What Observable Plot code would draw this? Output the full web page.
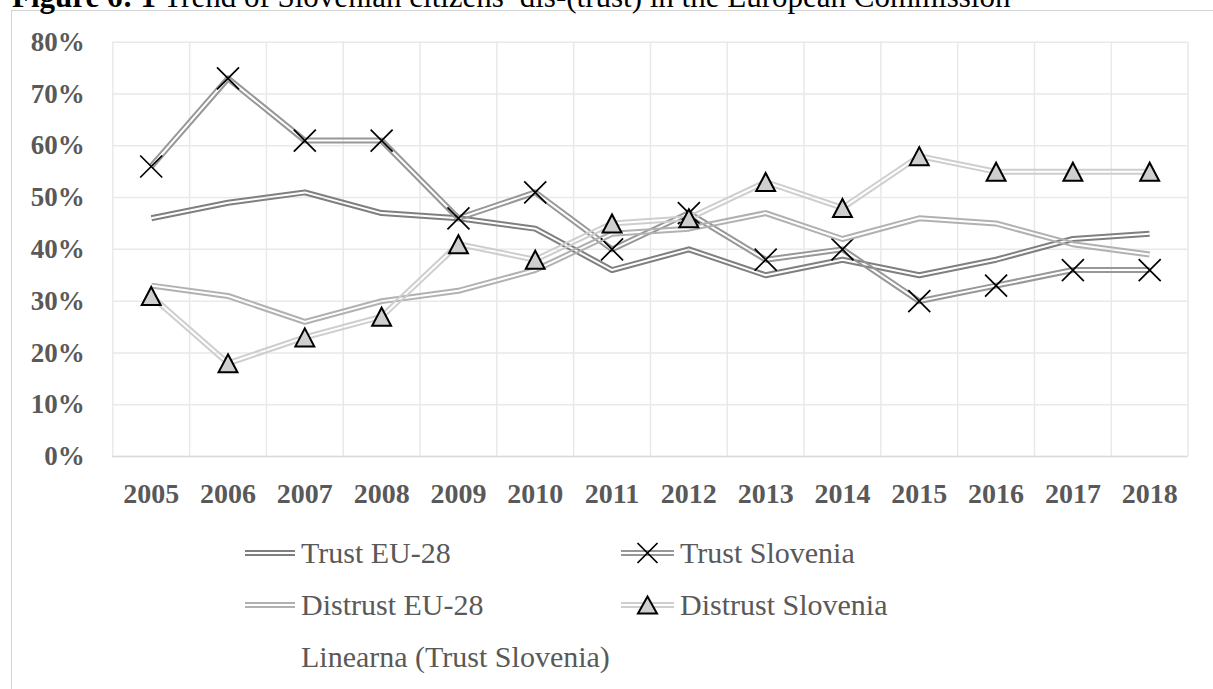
<!DOCTYPE html>
<html>
<head>
<meta charset="utf-8">
<script src="https://cdn.jsdelivr.net/npm/d3@7"></script>
<script src="https://cdn.jsdelivr.net/npm/@observablehq/plot@0.6"></script>
<style>
  html, body { margin: 0; padding: 0; background: #fff; width: 1213px; height: 689px; overflow: hidden; }
  #frame { position: absolute; left: 11px; top: 10px; width: 1400px; height: 900px; border: 1px solid #d4d4d4; }
  #title { position: absolute; left: 12px; top: -18px; font: 31px/30px "Liberation Serif", serif; color: #000; white-space: nowrap; }
  #chart { position: absolute; left: 0; top: 0; }
  #legend { position: absolute; left: 0; top: 0; }
  svg text { font-family: "Liberation Serif", "Times New Roman", serif !important; }
</style>
</head>
<body>
<div id="frame"></div>
<div id="title"><b>Figure 6: 1</b> Trend of Slovenian citizens’ dis-(trust) in the European Commission</div>
<div id="chart"></div>
<svg id="legend" width="1213" height="689"></svg>
<script>
// Survey years and shares (%) of respondents
const years = [2005, 2006, 2007, 2008, 2009, 2010, 2011, 2012, 2013, 2014, 2015, 2016, 2017, 2018];
const trustEU = [46, 49, 51, 47, 46, 44, 36, 40, 35, 38, 35, 38, 42, 43];
const trustSI = [56, 73, 61, 61, 46, 51, 40, 47, 38, 40, 30, 33, 36, 36];
const distrustEU = [33, 31, 26, 30, 32, 36, 43, 44, 47, 42, 46, 45, 41, 39];
const distrustSI = [31, 18, 23, 27, 41, 38, 45, 46, 53, 48, 58, 55, 55, 55];
const yTicks = [0, 10, 20, 30, 40, 50, 60, 70, 80];
const seriesNames = ["Trust EU-28", "Trust Slovenia", "Distrust EU-28", "Distrust Slovenia"];
const trendName = "Linearna (Trust Slovenia)";

// Marker shapes: an "x" cross and an upward triangle
const crossSymbol = {
  draw(ctx, size) {
    const r = Math.sqrt(size / Math.PI);
    ctx.moveTo(-r, -r); ctx.lineTo(r, r);
    ctx.moveTo(r, -r); ctx.lineTo(-r, r);
  }
};
const triangleSymbol = {
  draw(ctx, size) {
    const r = Math.sqrt(size / Math.PI);
    ctx.moveTo(0, -r); ctx.lineTo(r * 1.05, r); ctx.lineTo(-r * 1.05, r); ctx.closePath();
  }
};

const series = [
  {name: seriesNames[0], values: trustEU, color: "#7f7f7f", marker: null},
  {name: seriesNames[1], values: trustSI, color: "#979797", marker: "cross"},
  {name: seriesNames[2], values: distrustEU, color: "#b1b1b1", marker: null},
  {name: seriesNames[3], values: distrustSI, color: "#cecece", marker: "triangle"}
];

const W = 1213, H = 530;
const plotLeft = 112.3, plotRight = 1187.6, plotTop = 41.7, plotBottom = 456;
const x0 = years[0] - 0.5, x1 = years[years.length - 1] + 0.5;
const bounds = [...years.map(y => y - 0.5), x1];
const font = "Liberation Serif";

const marks = [
  Plot.ruleY(yTicks, {y: d => d, stroke: "#e9e9e9", strokeWidth: 1.5}),
  Plot.ruleX(bounds, {x: d => d, stroke: "#e9e9e9", strokeWidth: 1.5}),
  Plot.ruleY([0], {y: d => d, stroke: "#d9d9d9", strokeWidth: 1.5}),
  Plot.text(yTicks, {x: x0, y: d => d, text: d => d + "%", textAnchor: "end", dx: -28,
    fontSize: 27, fontWeight: "bold", fontFamily: font, fill: "#595959"}),
  Plot.text(years, {x: d => d, y: 0, text: d => String(d), dy: 38,
    fontSize: 28, fontWeight: "bold", fontFamily: font, fill: "#595959"})
];

for (const s of series) {
  const rows = years.map((year, i) => ({year, value: s.values[i]}));
  marks.push(Plot.line(rows, {x: "year", y: "value", stroke: s.color, strokeWidth: 6,
    strokeLinecap: "butt", strokeLinejoin: "round"}));
  if (s.marker === "cross") {
    marks.push(Plot.dot(rows, {x: "year", y: "value", symbol: crossSymbol, r: 11,
      stroke: "#000", strokeWidth: 1.7, fill: "none"}));
  } else if (s.marker === "triangle") {
    marks.push(Plot.dot(rows, {x: "year", y: "value", symbol: triangleSymbol, r: 9,
      stroke: "#000", strokeWidth: 2, fill: "#cfcfcf"}));
  }
}

const chart = Plot.plot({
  width: W, height: H,
  marginLeft: plotLeft, marginRight: W - plotRight, marginTop: plotTop, marginBottom: H - plotBottom,
  x: {type: "linear", domain: [x0, x1], axis: null},
  y: {type: "linear", domain: [0, 80], axis: null},
  style: {background: "transparent", overflow: "visible"},
  marks
});
document.getElementById("chart").appendChild(chart);

// Compound (double) lines: cut a transparent gap down the middle of each stroke
const svg = d3.select(chart.tagName.toLowerCase() === "svg" ? chart : chart.querySelector("svg"));
const defs = svg.insert("defs", ":first-child");
svg.selectAll('g[aria-label="line"] path').each(function(_, i) {
  const p = d3.select(this);
  const d = p.attr("d");
  const id = "double-line-" + i;
  const m = defs.append("mask").attr("id", id).attr("maskUnits", "userSpaceOnUse")
    .attr("x", 0).attr("y", 0).attr("width", W).attr("height", H);
  m.append("path").attr("d", d).attr("fill", "none").attr("stroke", "#fff")
    .attr("stroke-width", 8).attr("stroke-linejoin", "round").attr("stroke-linecap", "butt");
  m.append("path").attr("d", d).attr("fill", "none").attr("stroke", "#000")
    .attr("stroke-width", 2).attr("stroke-linejoin", "round").attr("stroke-linecap", "butt");
  p.attr("mask", `url(#${id})`);
});

// Legend
const lg = d3.select("#legend");
const legendItems = [
  {s: series[0], sx: 245, tx: 301, base: 563},
  {s: series[1], sx: 621, tx: 680, base: 563},
  {s: series[2], sx: 245, tx: 301, base: 615},
  {s: series[3], sx: 621, tx: 680, base: 615}
];
for (const it of legendItems) {
  const cy = it.base - 10;
  const w = it.s.marker ? 53 : 50;
  lg.append("rect").attr("x", it.sx).attr("y", cy - 3).attr("width", w).attr("height", 2).attr("fill", it.s.color);
  lg.append("rect").attr("x", it.sx).attr("y", cy + 1).attr("width", w).attr("height", 2).attr("fill", it.s.color);
  const mx = it.sx + w / 2;
  if (it.s.marker === "cross") {
    lg.append("path").attr("d", `M${mx - 10},${cy - 10}L${mx + 10},${cy + 10}M${mx + 10},${cy - 10}L${mx - 10},${cy + 10}`)
      .attr("stroke", "#000").attr("stroke-width", 1.7).attr("fill", "none");
  } else if (it.s.marker === "triangle") {
    lg.append("path").attr("d", `M${mx},${cy - 8.5}L${mx + 9.5},${cy + 8.5}L${mx - 9.5},${cy + 8.5}Z`)
      .attr("stroke", "#000").attr("stroke-width", 2).attr("fill", "#cfcfcf");
  }
  lg.append("text").attr("x", it.tx).attr("y", it.base).attr("font-size", 30)
    .attr("fill", "#595959").text(it.s.name);
}
lg.append("text").attr("x", 301).attr("y", 667).attr("font-size", 30)
  .attr("fill", "#595959").text(trendName);
</script>
</body>
</html>
